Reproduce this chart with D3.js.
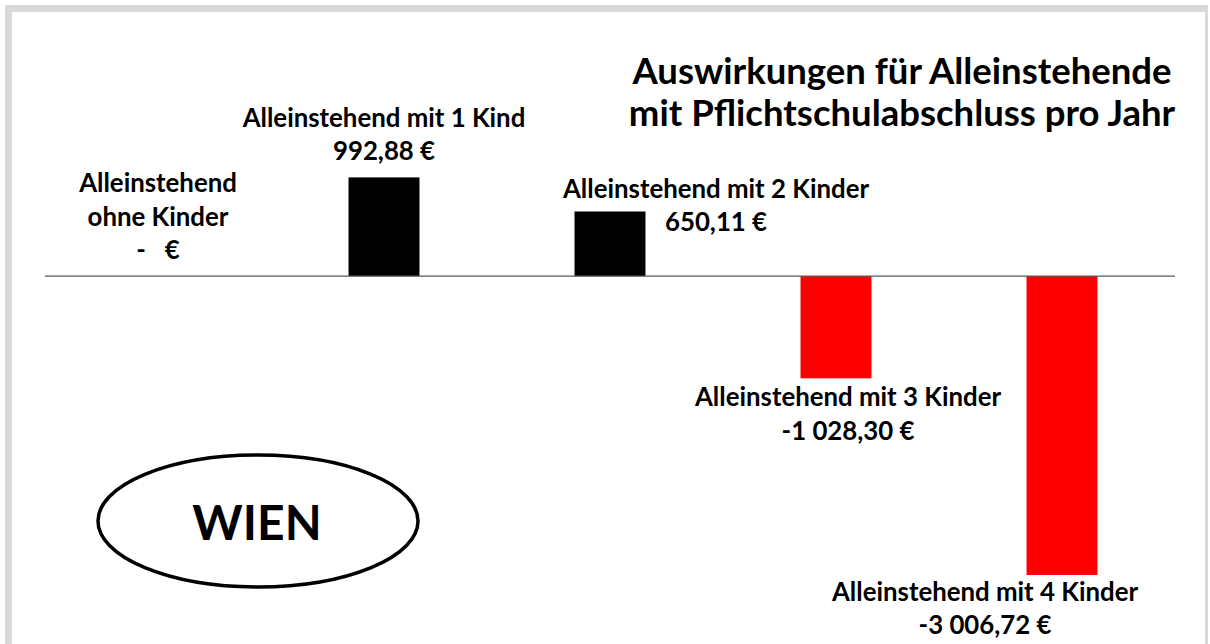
<!DOCTYPE html>
<html>
<head>
<meta charset="utf-8">
<script src="https://cdn.jsdelivr.net/npm/d3@7"></script>
<style>
  body { margin: 0; background: #fff; }
  text { font-family: Lato, "Open Sans", sans-serif; font-weight: 700; fill: #000; white-space: pre; }
</style>
</head>
<body>
<div id="chart"></div>
<script>

// data
const categories = ["ohne Kinder", "mit 1 Kind", "mit 2 Kinder", "mit 3 Kinder", "mit 4 Kinder"]
const values = [0, 992.88, 650.11, -1028.30, -3006.72]
const titleLines = ["Auswirkungen für Alleinstehende", "mit Pflichtschulabschluss pro Jahr"]
const badge = "WIEN"

// where each data label sits, relative to bar centre / bar end
const labelLayout = [
  {dx: 0, dy: -17, split: true},
  {dx: 0, dy: -17},
  {dx: 106, dy: 20},
  {dx: 12, dy: 28},
  {dx: -77, dy: 26}
]

const width = 1210
const height = 644

const svg = d3.select('#chart').append('svg').attr("width", width).attr("height", height)

// frame
svg.append('rect').attr("x", 5).attr("y", 5).attr("width", 1203).attr("height", 700).attr("fill", "#d9d9d9")
svg.append('rect').attr("x", 12).attr("y", 12).attr("width", 1193).attr("height", 700).attr("fill", "#fff")

const x = d3.scaleBand().domain(categories).range([45, 1175]).paddingInner(0.686).paddingOuter(0.343)
const y = d3.scaleLinear().domain([-3500, 1500]).range([624, 127])

const eur = d3.formatLocale({decimal: ",", thousands: " ", grouping: [3], currency: ["", " €"]}).format("$,.2f")
const fmt = v => v == 0 ? "-   €" : eur(v).replace("−", "-")

// bars
svg.selectAll('rect.bar')
  .data(values)
  .enter()
  .append('rect')
  .attr("class", "bar")
  .attr("x", (d, i) => x(categories[i]))
  .attr("width", x.bandwidth())
  .attr("y", d => y(Math.max(0, d)))
  .attr("height", d => Math.abs(y(d) - y(0)))
  .attr("fill", d => d < 0 ? "#ff0000" : "#000")

// zero line
svg.append('line')
  .attr("x1", 45).attr("x2", 1175)
  .attr("y1", y(0)).attr("y2", y(0))
  .attr("stroke", "#595959").attr("stroke-width", 1.2)

// data labels
const lineH = 33.5
values.forEach(function (v, i) {
  const lay = labelLayout[i]
  let lines = lay.split
    ? ["Alleinstehend", categories[i], fmt(v)]
    : ["Alleinstehend " + categories[i], fmt(v)]
  const cx = x(categories[i]) + x.bandwidth() / 2 + lay.dx
  let y0
  if (v >= 0) {
    y0 = y(v) + lay.dy - (lines.length - 1) * lineH
  } else {
    y0 = y(v) + lay.dy
  }
  lines.forEach(function (t, j) {
    svg.append('text')
      .attr("x", cx)
      .attr("y", y0 + j * lineH)
      .attr("text-anchor", "middle")
      .style("font-size", "25.8px")
      .text(t)
  })
})

// title
titleLines.forEach(function (t, j) {
  svg.append('text')
    .attr("x", 902)
    .attr("y", 84 + j * 41.5)
    .attr("text-anchor", "middle")
    .style("font-size", "36.5px")
    .text(t)
})

// WIEN badge
svg.append('ellipse')
  .attr("cx", 258).attr("cy", 521).attr("rx", 160).attr("ry", 66)
  .attr("fill", "none").attr("stroke", "#000").attr("stroke-width", 3.5)

svg.append('text')
  .attr("x", 257).attr("y", 540)
  .attr("text-anchor", "middle")
  .style("font-size", "48px")
  .text(badge)

</script>
</body>
</html>
